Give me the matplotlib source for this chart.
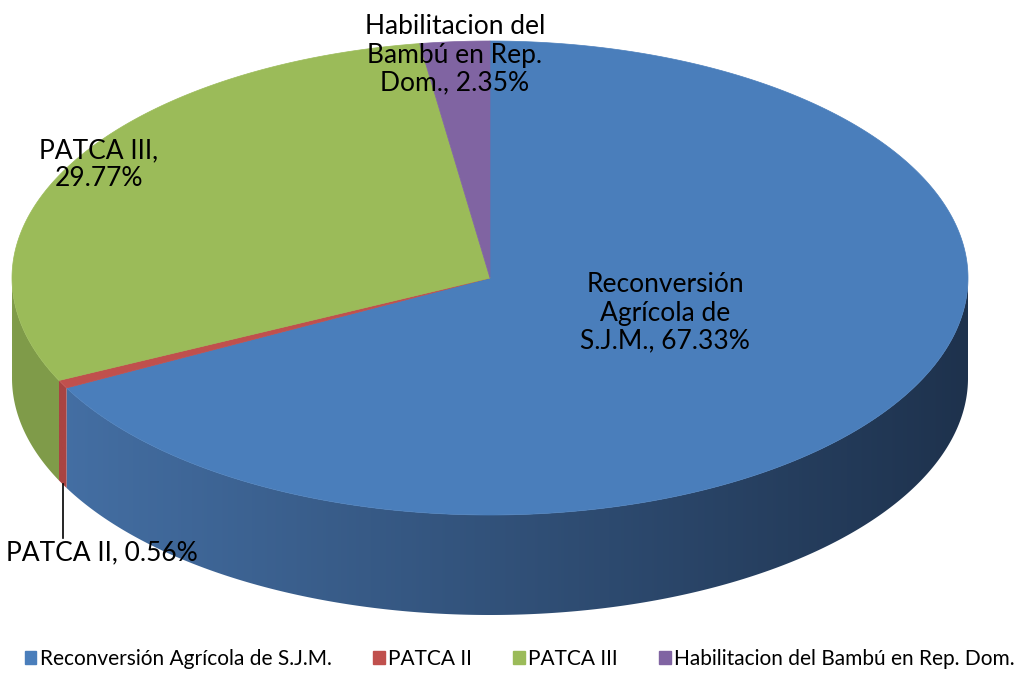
import numpy as np
import matplotlib
matplotlib.use('Agg')
import matplotlib.pyplot as plt
from matplotlib.patches import Polygon, Patch
from matplotlib.colors import to_rgb

plt.rcParams['font.family'] = ['Lato', 'DejaVu Sans']

labels = ['Reconversión Agrícola de S.J.M.', 'PATCA II', 'PATCA III',
          'Habilitacion del Bambú en Rep. Dom.']
values = [67.33, 0.56, 29.77, 2.35]
top_colors = ['#4A7EBB', '#C0504D', '#9BBB59', '#8064A2']
side_light = ['#4672A8', '#A94442', '#809C4A', '#6B5489']
side_dark = ['#1E324D', '#A94442', '#7A9545', '#6B5489']
slice_text = ['Reconversión\nAgrícola de\nS.J.M., 67.33%', 'PATCA II, 0.56%',
              'PATCA III,\n29.77%', 'Habilitacion del\nBambú en Rep.\nDom., 2.35%']

# pie geometry (pixels, y downward)
cx, cy, a, b, depth = 490, 278, 478, 237, 100

fig = plt.figure(figsize=(10.27, 6.73), dpi=100)
ax = fig.add_axes([0, 0, 1, 1])
ax.set_xlim(0, 1027)
ax.set_ylim(673, 0)
ax.axis('off')


def pt(t):
    r = np.radians(t)
    return cx + a * np.cos(r), cy - b * np.sin(r)


total = sum(values)
start = 90.0
spans = []
for v in values:
    end = start - v / total * 360
    spans.append((end, start))
    start = end

# sides (front half only), shaded left to right
for i, (t0, t1) in enumerate(spans):
    for off in (0, 360, -360):
        lo, hi = max(t0 + off, 180), min(t1 + off, 360)
        if hi <= lo:
            continue
        ts = np.linspace(lo, hi, max(int((hi - lo) * 3), 2))
        upper = [pt(t) for t in ts]
        lower = [(x, y + depth) for x, y in upper[::-1]]
        poly = Polygon(upper + lower, closed=True, facecolor='none', edgecolor='none', zorder=1)
        ax.add_patch(poly)
        c1, c2 = np.array(to_rgb(side_light[i])), np.array(to_rgb(side_dark[i]))
        f = np.linspace(0, 1, 256)[None, :, None]
        grad = c1 + (c2 - c1) * f
        im = ax.imshow(grad, extent=(cx - a, cx + a, cy + b + depth + 5, cy - 5),
                       aspect='auto', interpolation='bilinear', zorder=1)
        im.set_clip_path(poly)

# top faces
for i, (t0, t1) in enumerate(spans):
    ts = np.linspace(t0, t1, max(int((t1 - t0) * 2), 2))
    pts = [(cx, cy)] + [pt(t) for t in ts]
    ax.add_patch(Polygon(pts, closed=True, facecolor=top_colors[i],
                         edgecolor=top_colors[i], lw=0.5, zorder=2))

ax.set_xlim(0, 1027)
ax.set_ylim(673, 0)

fs = 19
ax.text(665, 313, slice_text[0], ha='center', va='center', fontsize=fs, linespacing=1.15, zorder=5)
ax.text(99, 165, slice_text[2], ha='center', va='center', fontsize=fs, linespacing=1.15, zorder=5)
ax.text(455, 55, slice_text[3], ha='center', va='center', fontsize=fs, linespacing=1.15, zorder=5)
ax.text(102, 553, slice_text[1], ha='center', va='center', fontsize=fs, zorder=5)

# leader line for PATCA II
xm, ym = pt((spans[1][0] + spans[1][1]) / 2)
ax.plot([xm, xm], [ym + depth, 538], color='black', lw=1.2, zorder=4)

handles = [Patch(facecolor=c, edgecolor=c) for c in top_colors]
ax.legend(handles, labels, loc='lower center', bbox_to_anchor=(0.506, -0.022), ncol=4,
          frameon=False, fontsize=15, handlelength=0.55, handleheight=0.55,
          handletextpad=0.15, columnspacing=2.0)

fig.savefig('out.png', dpi=100)
